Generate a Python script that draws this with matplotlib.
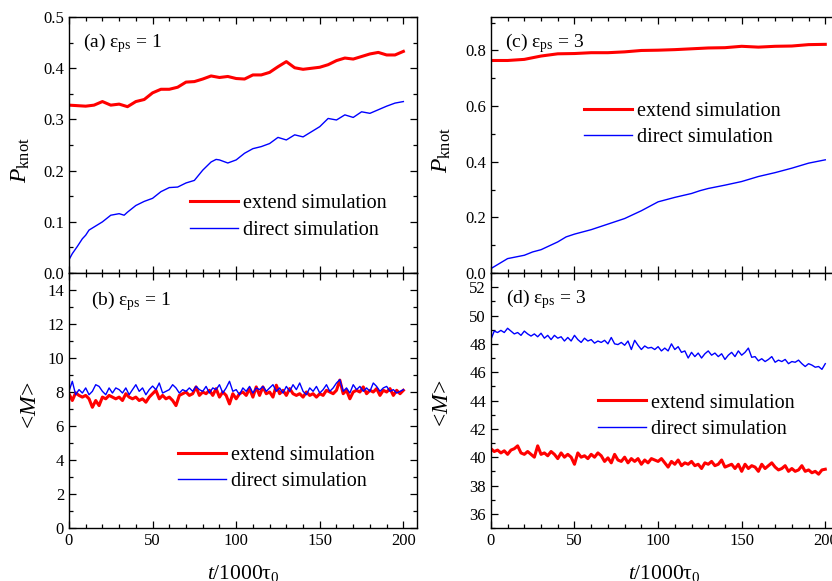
import numpy as np
import matplotlib.pyplot as plt
from matplotlib.ticker import MultipleLocator

plt.rcParams["font.family"] = ["Liberation Serif", "DejaVu Serif"]
plt.rcParams["mathtext.fontset"] = "custom"
plt.rcParams["mathtext.rm"] = "Liberation Serif"
plt.rcParams["mathtext.it"] = "Liberation Serif:italic"

# ---- data ----
# (a) P_knot, eps_ps = 1
t_a_ext = np.arange(0, 201, 5)
p_a_ext = [0.328, 0.327, 0.326, 0.328, 0.335, 0.328, 0.330, 0.325, 0.335, 0.339,
           0.352, 0.359, 0.359, 0.363, 0.373, 0.374, 0.379, 0.385, 0.382, 0.384,
           0.380, 0.379, 0.387, 0.387, 0.392, 0.403, 0.413, 0.401, 0.398, 0.400,
           0.402, 0.407, 0.415, 0.420, 0.418, 0.423, 0.428, 0.431, 0.426, 0.426,
           0.433]
t_a_dir = [0, 2, 5, 8, 10, 12, 15, 20, 25, 30, 33, 35, 40, 45, 50, 55, 60, 65, 70,
           75, 80, 85, 88, 90, 95, 100, 105, 110, 115, 120, 125, 130, 135, 140, 145,
           150, 155, 160, 165, 170, 175, 180, 185, 190, 195, 200]
p_a_dir = [0.026, 0.038, 0.052, 0.067, 0.074, 0.084, 0.090, 0.100, 0.113, 0.116,
           0.113, 0.119, 0.132, 0.140, 0.146, 0.159, 0.167, 0.168, 0.176, 0.181,
           0.201, 0.217, 0.222, 0.221, 0.215, 0.221, 0.234, 0.243, 0.247, 0.253,
           0.265, 0.260, 0.270, 0.266, 0.276, 0.286, 0.302, 0.299, 0.309, 0.304,
           0.315, 0.312, 0.319, 0.326, 0.332, 0.335]

# (c) P_knot, eps_ps = 3
t_c_ext = [0, 10, 20, 25, 30, 40, 50, 60, 70, 80, 90, 100, 110, 120, 130, 140,
           150, 160, 170, 180, 190, 200]
p_c_ext = [0.764, 0.764, 0.768, 0.774, 0.780, 0.788, 0.789, 0.792, 0.792, 0.795,
           0.800, 0.801, 0.803, 0.806, 0.809, 0.810, 0.815, 0.812, 0.815, 0.816,
           0.821, 0.822]
t_c_dir = [0, 5, 10, 20, 25, 30, 40, 45, 50, 60, 70, 80, 90, 100, 110, 120, 125,
           130, 140, 150, 160, 170, 180, 190, 200]
p_c_dir = [0.016, 0.034, 0.052, 0.064, 0.076, 0.084, 0.112, 0.130, 0.140, 0.156,
           0.176, 0.196, 0.224, 0.256, 0.272, 0.286, 0.296, 0.304, 0.316, 0.329,
           0.347, 0.361, 0.377, 0.395, 0.407]

# (b) <M>, eps_ps = 1  (every 2 units of t)
t_m = np.arange(0, 201, 2)
m_b_ext = [7.9, 7.5, 7.95, 7.8, 7.7, 7.8, 7.6, 7.1, 7.5, 7.2,
           7.7, 7.6, 7.8, 7.7, 7.6, 7.7, 7.5, 7.9, 7.7, 7.6,
           7.7, 7.5, 7.6, 7.4, 7.7, 7.9, 8.1, 7.6, 7.8, 7.6,
           7.7, 7.5, 7.2, 7.8, 7.9, 8.0, 7.8, 7.9, 8.3, 7.8,
           8.0, 7.9, 8.1, 7.8, 8.2, 7.7, 8.0, 7.8, 7.3, 7.9,
           7.6, 7.9, 8.0, 7.8, 8.2, 7.7, 8.3, 7.8, 8.3, 7.9,
           8.0, 7.7, 8.4, 7.9, 8.1, 7.8, 8.2, 7.9, 7.8, 7.9,
           7.7, 8.0, 7.8, 7.9, 7.7, 7.9, 7.8, 8.1, 8.0, 7.9,
           8.1, 8.7, 7.9, 8.1, 7.6, 8.0, 8.1, 8.0, 8.3, 7.9,
           8.1, 8.0, 8.2, 7.8, 8.1, 8.0, 8.2, 7.8, 8.1, 7.9,
           8.1]
m_b_dir = [8.04, 8.63, 7.84, 8.14, 7.94, 8.24, 7.84, 8.04, 8.43, 8.33,
           8.04, 7.84, 8.24, 7.94, 8.24, 8.14, 7.94, 8.24, 7.84, 8.14,
           8.43, 8.04, 8.24, 7.84, 8.14, 8.35, 8.14, 8.53, 7.94, 8.04,
           8.14, 8.43, 8.24, 7.94, 8.14, 8.04, 8.24, 8.04, 8.33, 8.14,
           8.04, 8.33, 7.94, 8.24, 8.14, 8.43, 7.94, 8.24, 8.63, 8.04,
           8.14, 7.84, 8.24, 8.04, 8.33, 7.94, 8.24, 8.14, 8.33, 8.04,
           8.24, 8.43, 8.04, 8.24, 7.94, 8.33, 8.04, 8.43, 8.14, 8.53,
           8.04, 7.84, 8.24, 8.04, 8.33, 7.94, 8.14, 8.43, 8.04, 8.24,
           8.53, 8.73, 8.04, 8.24, 7.94, 8.43, 8.14, 8.33, 8.04, 8.24,
           8.04, 8.53, 8.33, 8.04, 8.24, 8.33, 8.04, 8.14, 7.94, 8.04,
           8.14]

# (d) <M>, eps_ps = 3
m_d_ext = [40.6, 40.4, 40.5, 40.3, 40.45, 40.2, 40.5, 40.6, 40.8, 40.3,
           40.2, 40.4, 40.2, 40.0, 40.8, 40.2, 40.3, 40.1, 40.4, 40.2,
           39.9, 40.3, 40.0, 40.2, 40.0, 39.5, 40.3, 40.0, 40.1, 39.9,
           40.2, 40.0, 40.3, 40.1, 39.7, 39.95, 39.6, 40.2, 39.8, 39.7,
           40.0, 39.6, 39.9, 39.7, 39.9, 39.5, 39.8, 39.6, 39.9, 39.8,
           39.7, 39.9, 39.6, 39.3, 39.7, 39.5, 39.8, 39.4, 39.6, 39.5,
           39.7, 39.4, 39.5, 39.2, 39.6, 39.5, 39.7, 39.4, 39.5, 39.8,
           39.3, 39.4, 39.5, 39.2, 39.5, 39.0, 39.5, 39.2, 39.4, 39.3,
           39.0, 39.5, 39.2, 39.4, 39.6, 39.3, 39.1, 39.2, 39.4, 39.0,
           39.2, 39.0, 39.1, 39.4, 39.0, 39.1, 38.9, 39.0, 38.8, 39.1,
           39.15]
m_d_dir = [48.3, 48.9, 48.8, 48.95, 48.8, 49.1, 48.9, 48.7, 48.8, 48.6,
           48.9, 48.7, 48.55, 48.7, 48.5, 48.75, 48.4, 48.6, 48.3, 48.6,
           48.4, 48.5, 48.2, 48.45, 48.2, 48.6, 48.3, 48.1, 48.4, 48.2,
           48.3, 48.05, 48.2, 48.1, 48.25, 48.0, 48.45, 48.0, 47.95, 48.1,
           47.9, 48.2, 47.6, 48.25, 47.9, 47.6, 47.85, 47.7, 47.75, 47.6,
           47.8, 47.5, 47.7, 47.5, 48.0, 47.6, 47.8, 47.4, 47.5, 47.0,
           47.4, 47.1, 47.35, 47.0, 47.3, 47.5, 47.2, 47.35, 47.1, 47.3,
           46.9, 47.2, 47.4, 47.1, 47.5, 47.2, 47.4, 47.7, 47.05, 47.1,
           46.8, 46.95, 46.75, 46.9, 47.1, 46.7, 46.85, 46.75, 46.9, 46.6,
           46.75, 46.7, 46.85, 46.6, 46.4, 46.6, 46.5, 46.35, 46.4, 46.2,
           46.6]

# ---- figure ----
fig = plt.figure(figsize=(8.32, 5.81), dpi=100)
ax_a = fig.add_axes([0.0829, 0.530, 0.418, 0.4406])
ax_b = fig.add_axes([0.0829, 0.0912, 0.418, 0.4389])
ax_c = fig.add_axes([0.590, 0.530, 0.418, 0.4406])
ax_d = fig.add_axes([0.590, 0.0912, 0.418, 0.4389])

red_kw = dict(color="#ff0000", lw=2.2, label="extend simulation")
blue_kw = dict(color="#0000ff", lw=1.0, label="direct simulation")

ax_a.plot(t_a_ext, p_a_ext, **red_kw)
ax_a.plot(t_a_dir, p_a_dir, **blue_kw)
ax_c.plot(t_c_ext, p_c_ext, **red_kw)
ax_c.plot(t_c_dir, p_c_dir, **blue_kw)
ax_b.plot(t_m, m_b_ext, **red_kw)
ax_b.plot(t_m, m_b_dir, **blue_kw)
ax_d.plot(t_m, m_d_ext, **red_kw)
ax_d.plot(t_m, m_d_dir, **blue_kw)

ax_a.set_ylim(0, 0.5)
ax_a.yaxis.set_major_locator(MultipleLocator(0.1))
ax_a.yaxis.set_minor_locator(MultipleLocator(0.05))
ax_c.set_ylim(0, 0.92)
ax_c.yaxis.set_major_locator(MultipleLocator(0.2))
ax_c.yaxis.set_minor_locator(MultipleLocator(0.1))
ax_b.set_ylim(0, 15)
ax_b.yaxis.set_major_locator(MultipleLocator(2))
ax_b.yaxis.set_minor_locator(MultipleLocator(1))
ax_d.set_ylim(35, 53)
ax_d.yaxis.set_major_locator(MultipleLocator(2))
ax_d.yaxis.set_minor_locator(MultipleLocator(1))

for ax in (ax_a, ax_b, ax_c, ax_d):
    ax.set_xlim(0, 208)
    ax.xaxis.set_major_locator(MultipleLocator(50))
    ax.xaxis.set_minor_locator(MultipleLocator(10))
    ax.tick_params(which="both", direction="in", top=True, right=True,
                   labelsize=12, width=0.9)
    ax.tick_params(which="major", length=5)
    ax.tick_params(which="minor", length=3)
    for s in ax.spines.values():
        s.set_linewidth(1.0)

ax_a.yaxis.set_major_formatter(lambda v, p: f"{v:.1f}")
ax_c.yaxis.set_major_formatter(lambda v, p: f"{v:.1f}")
ax_a.tick_params(labelbottom=False)
ax_c.tick_params(labelbottom=False)

# axis labels
ax_a.set_ylabel(r"$P_{\rm knot}$", fontsize=17)
ax_c.set_ylabel(r"$P_{\rm knot}$", fontsize=17)
ax_b.set_ylabel(r"<$M$>", fontsize=17)
ax_d.set_ylabel(r"<$M$>", fontsize=17)
ax_a.yaxis.set_label_coords(-0.105, 0.44)
ax_c.yaxis.set_label_coords(-0.11, 0.48)
ax_b.yaxis.set_label_coords(-0.08, 0.48)
ax_d.yaxis.set_label_coords(-0.11, 0.49)
ax_b.set_xlabel(r"$t$/1000τ$_0$", fontsize=15.5)
ax_d.set_xlabel(r"$t$/1000τ$_0$", fontsize=15.5)
ax_b.xaxis.set_label_coords(0.5, -0.137)
ax_d.xaxis.set_label_coords(0.5, -0.137)

# panel tags
ax_a.text(0.04, 0.883, r"(a) ε$_{\rm ps}$ = 1", transform=ax_a.transAxes, fontsize=14, va="baseline")
ax_b.text(0.063, 0.875, r"(b) ε$_{\rm ps}$ = 1", transform=ax_b.transAxes, fontsize=14, va="baseline")
ax_c.text(0.04, 0.883, r"(c) ε$_{\rm ps}$ = 3", transform=ax_c.transAxes, fontsize=14, va="baseline")
ax_d.text(0.043, 0.882, r"(d) ε$_{\rm ps}$ = 3", transform=ax_d.transAxes, fontsize=14, va="baseline")

# legends
leg_pos = {ax_a: (0.348, 0.219), ax_c: (0.267, 0.582), ax_b: (0.313, 0.235), ax_d: (0.307, 0.439)}
for ax, (lx, ly) in leg_pos.items():
    ax.legend(loc="center left", bbox_to_anchor=(lx, ly), frameon=False, fontsize=14.5,
              handlelength=2.4, handletextpad=0.25, labelspacing=0.35,
              borderpad=0, borderaxespad=0)

fig.savefig("out.png", dpi=100)
